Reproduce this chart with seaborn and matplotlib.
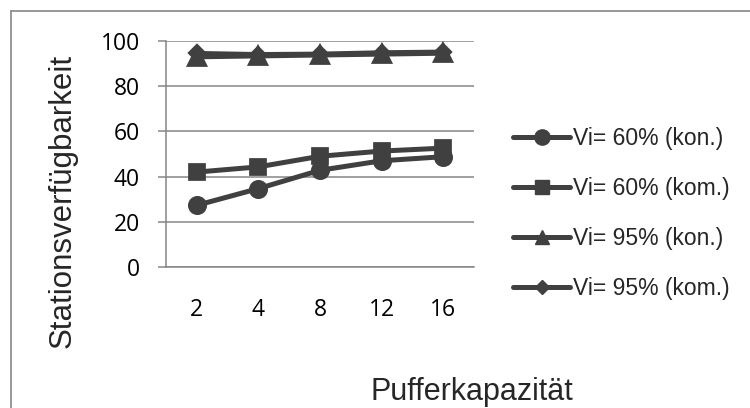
import matplotlib
matplotlib.use("Agg")
import matplotlib.pyplot as plt
from matplotlib.lines import Line2D
import seaborn as sns
import pandas as pd

# ---- data ----
puffer = ["2", "4", "8", "12", "16"]
vi60_kon = [27.3, 34.7, 42.8, 47.0, 48.8]
vi60_kom = [42.0, 44.3, 49.0, 51.3, 52.6]
vi95_kon = [93.0, 93.4, 93.8, 94.2, 94.6]
vi95_kom = [94.5, 94.0, 94.2, 94.8, 95.1]
series_names = ["Vi= 60% (kon.)", "Vi= 60% (kom.)", "Vi= 95% (kon.)", "Vi= 95% (kom.)"]
x_label = "Pufferkapazität"
y_label = "Stationsverfügbarkeit"
y_ticks = [0, 20, 40, 60, 80, 100]

rows = []
for name, vals in zip(series_names, [vi60_kon, vi60_kom, vi95_kon, vi95_kom]):
    for p, v in zip(puffer, vals):
        rows.append({"Puffer": p, "Wert": v, "Serie": name})
df = pd.DataFrame(rows)

# ---- style ----
sns.set_style("white")
plt.rcParams["font.family"] = ["Liberation Sans", "DejaVu Sans"]

LINE = "#404040"
GRID = "#868686"
markers = ["o", "s", "^", "D"]
msizes = [11, 10.5, 11, 7]

fig = plt.figure(figsize=(7.5, 4.08), dpi=100)
ax = fig.add_axes([166 / 750, 1 - 267 / 408, (474 - 166) / 750, (267 - 41) / 408])

for name, m, ms in zip(series_names, markers, msizes):
    sub = df[df["Serie"] == name]
    sns.pointplot(data=sub, x="Puffer", y="Wert", order=puffer, color=LINE,
                  marker=m, markersize=ms, linewidth=3.6, errorbar=None, ax=ax,
                  markeredgecolor=LINE)

ax.set_xlim(-0.5, 4.5)
ax.set_ylim(0, 100)
ax.set_yticks(y_ticks)
ax.set_xlabel("")
ax.set_ylabel("")
ax.grid(axis="y", color=GRID, linewidth=1.1)
ax.grid(axis="x", visible=False)
ax.set_axisbelow(True)
for s in ["top", "right"]:
    ax.spines[s].set_visible(False)
for s in ["left", "bottom"]:
    ax.spines[s].set_visible(True)
    ax.spines[s].set_color(GRID)
    ax.spines[s].set_linewidth(1.1)

ax.tick_params(axis="y", length=5.8, width=1.1, color=GRID, pad=13,
               labelsize=16.5, left=True)
ax.tick_params(axis="x", length=0, pad=22, labelsize=16.5)
for lab in ax.get_xticklabels() + ax.get_yticklabels():
    lab.set_fontfamily(["Open Sans", "DejaVu Sans"])
    lab.set_color("#000000")

# legend
handles = [Line2D([0], [0], color=LINE, lw=3.6, marker=m, markersize=ms,
                  markeredgecolor=LINE)
           for m, ms in zip(markers, [11, 10.5, 10.5, 6.8])]
leg = ax.legend(handles, series_names, loc="center left",
                bbox_to_anchor=(513 / 750, 1 - 213.5 / 408),
                bbox_transform=fig.transFigure, frameon=False,
                fontsize=16.5, handlelength=2.5, handletextpad=0.13,
                labelspacing=1.17, borderpad=0, borderaxespad=0)

fig.text(472 / 750, 1 - 400 / 408, x_label, ha="center", va="baseline", fontsize=22)
fig.text(63 / 750, 1 - 201 / 408, y_label, ha="center", va="center",
         rotation=90, fontsize=22.5)

# chart border (top and left edges visible)
fig.add_artist(Line2D([11 / 750, 1], [1 - 11 / 408, 1 - 11 / 408],
                      transform=fig.transFigure, color=GRID, lw=1.2))
fig.add_artist(Line2D([11 / 750, 11 / 750], [0, 1 - 11 / 408],
                      transform=fig.transFigure, color=GRID, lw=1.2))

fig.savefig("out.png", dpi=100)
